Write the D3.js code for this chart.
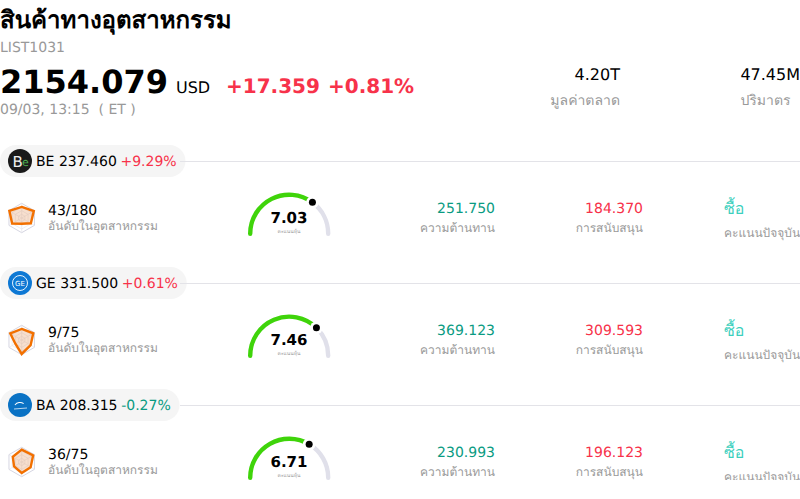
<!DOCTYPE html>
<html><head><meta charset="utf-8">
<script src="https://cdn.jsdelivr.net/npm/d3@7"></script>
<style>html,body{margin:0;padding:0;background:#fff;overflow:hidden}svg{display:block}text{font-family:"DejaVu Sans","Noto Sans",sans-serif;white-space:pre;text-rendering:geometricPrecision}</style>
</head><body><svg id="c" width="800" height="499"></svg>
<script>
const tickers=["BE","GE","BA"];
const prices=["237.460","331.500","208.315"];
const changes=["+9.29%","+0.61%","-0.27%"];
const ranks=["43/180","9/75","36/75"];
const scores=[7.03,7.46,6.71];
const resistance=["251.750","369.123","230.993"];
const support=["184.370","309.593","196.123"];
const radar=[[.75,.95,.72,.39,.75,.97],[.75,.91,.7,.95,.5,.9],[.84,.9,.7,.75,.6,.7]];
const logoFill=["#1a1a1a","#0d78d4","#0a72c4"];
const red="#f7324a",green="#0a9b82",grey="#999";
const svg=d3.select("#c");
function T(x,y,s,size,fill,anchor,weight){return svg.append("text").attr("x",x).attr("y",y).attr("font-size",size).attr("fill",fill||"#000").attr("text-anchor",anchor||"start").attr("font-weight",weight||"normal").text(s)}
T(0,27.5,"สินค้าทางอุตสาหกรรม",24,"#000","start","bold");
T(0,52,"LIST1031",14,grey);
T(0,93,"2154.079",32,"#000","start","bold");
T(176,93,"USD",16);
T(226,93,"+17.359",20,red,"start","bold");
T(328,93,"+0.81%",20,red,"start","bold");
T(0,114,"09/03, 13:15  ( ET )",14,grey);
T(620,80,"4.20T",16,"#000","end");
T(620,105,"มูลค่าตลาด",14,grey,"end");
T(800,80,"47.45M",16,"#000","end");
T(790.5,105,"ปริมาตร",14,grey,"end");
const rowY=d3.scaleLinear().domain([0,1]).range([161,283]);
const gaugeX=d3.scaleLinear().domain([0,10]).range([-Math.PI/2,Math.PI/2]);
const radarA=d3.scaleLinear().domain([0,6]).range([0,2*Math.PI]);
const radarR=d3.scaleLinear().domain([0,1]).range([0,14.7]);
const radial=d3.lineRadial().angle((d,i)=>radarA(i)).radius(d=>radarR(d)).curve(d3.curveLinearClosed);
const arcGen=d3.arc().innerRadius(39).outerRadius(39);
const arc=o=>arcGen(o).replace(/Z$/,"");
tickers.forEach((t,i)=>{
 const y=rowY(i);
 svg.append("line").attr("x1",180).attr("x2",800).attr("y1",y+.5).attr("y2",y+.5).attr("stroke","#e3e3e8");
 const lbl=T(36,y+5,t+" "+prices[i]+" ",14);
 lbl.append("tspan").attr("dx",-.8).attr("fill",changes[i][0]==="+"?red:green).text(changes[i]);
 const w=lbl.node().getComputedTextLength();
 svg.append("rect").attr("x",0).attr("y",y-16).attr("width",36+w+8).attr("height",32).attr("rx",16).attr("fill","#f5f5f5").lower();
 svg.append("circle").attr("cx",20).attr("cy",y).attr("r",12).attr("fill",logoFill[i]);
 if(i===0){T(12.5,y+5.5,"B",15,"#eee");T(22,y+5,"e",11,"#4caf50");}
 if(i===1){svg.append("circle").attr("cx",20).attr("cy",y).attr("r",7.5).attr("fill","none").attr("stroke","#fff").attr("stroke-width",.9);T(20,y+2.5,"GE",7,"#fff","middle");}
 if(i===2){svg.append("path").attr("d",d3.arc()({innerRadius:6,outerRadius:7,startAngle:-.9,endAngle:.6})).attr("transform",`translate(20,${y+4})`).attr("fill","#fff");svg.append("line").attr("x1",14).attr("x2",27).attr("y1",y+4).attr("y2",y+3).attr("stroke","#fff").attr("stroke-width",.7);}
 const g=svg.append("g").attr("transform",`translate(21.7,${y+57})`);
 [1,.75,.5,.25].forEach(k=>g.append("path").attr("d",radial(d3.range(6).map(()=>k))).attr("fill","none").attr("stroke",k===1?"#d6d6e2":"#e2e2ea").attr("stroke-width",k===1?1:.6));
 d3.range(3).forEach(a=>g.append("path").attr("d",d3.lineRadial()([[radarA(a),14.7],[radarA(a+3),14.7]])).attr("stroke","#e2e2ea").attr("stroke-width",.6));
 g.append("path").attr("d",radial(radar[i])).attr("fill","rgba(225,140,80,.28)").attr("stroke","#f27000").attr("stroke-width",2.4).attr("stroke-linejoin","miter");
 T(48,y+54,ranks[i],14);
 T(48,y+69,"อันดับในอุตสาหกรรม",12,grey);
 const gg=svg.append("g").attr("transform",`translate(289.2,${y+72.7})`).attr("fill","none").attr("stroke-width",4.4).attr("stroke-linecap","round").attr("stroke-linejoin","round");
 gg.append("path").attr("d",arc({startAngle:gaugeX(scores[i]),endAngle:gaugeX(10)})).attr("stroke","#e0e0ea");
 gg.append("path").attr("d",arc({startAngle:gaugeX(0),endAngle:gaugeX(scores[i])})).attr("stroke","#3fd40a");
 const a=gaugeX(scores[i]);
 gg.append("circle").attr("cx",39*Math.sin(a)).attr("cy",-39*Math.cos(a)).attr("r",6.3).attr("fill","#fff").attr("stroke","none");
 gg.append("circle").attr("cx",39*Math.sin(a)).attr("cy",-39*Math.cos(a)).attr("r",3.5).attr("fill","#000").attr("stroke","none");
 T(289,y+61.5,scores[i].toFixed(2),15,"#000","middle","bold");
 T(289,y+71.5,"คะแนนหุ้น",5,grey,"middle");
 T(495,y+52,resistance[i],14,green,"end");
 T(495,y+71,"ความต้านทาน",12,grey,"end");
 T(643,y+52,support[i],14,red,"end");
 T(643,y+71,"การสนับสนุน",12,grey,"end");
 T(724,y+53,"ซื้อ",16,"#3ccfbd");
 T(724,y+76,"คะแนนปัจจุบัน",12,grey);
});
svg.append("rect").attr("x",0).attr("y",480).attr("width",800).attr("height",19).attr("fill","#fff");
</script></body></html>
